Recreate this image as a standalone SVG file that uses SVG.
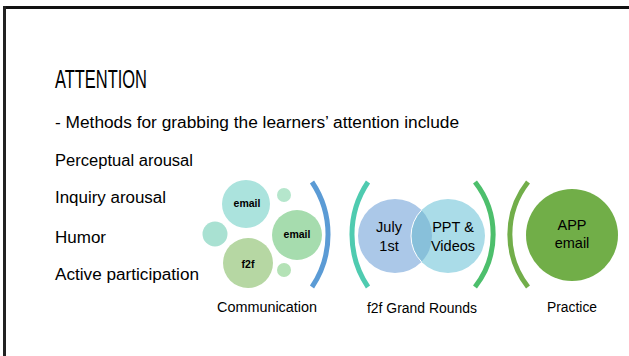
<svg xmlns="http://www.w3.org/2000/svg" width="629" height="356" viewBox="0 0 629 356">
  <style>
    .body { font-family: "Liberation Sans", Arial, sans-serif; font-size: 16px; fill: #000; }
    .title { font-family: "Liberation Sans", Arial, sans-serif; font-size: 25px; fill: #000; }
    .lbl { font-family: "Liberation Sans", Arial, sans-serif; font-size: 14px; fill: #000; text-anchor: middle; }
    .small { font-family: "Liberation Sans", Arial, sans-serif; font-size: 10.5px; font-weight: bold; fill: #000; text-anchor: middle; }
    .mid { font-family: "Liberation Sans", Arial, sans-serif; font-size: 14.5px; fill: #000; text-anchor: middle; }
    .arc { fill: none; stroke-width: 5; stroke-linecap: butt; }
  </style>
  <defs>
    <clipPath id="clipL"><circle cx="395" cy="236" r="37"/></clipPath>
  </defs>
  <rect x="0" y="0" width="629" height="356" fill="#ffffff"/>
  <g id="frame">
    <line x1="3" y1="7.5" x2="629" y2="7.5" stroke="#111" stroke-width="3"/>
    <line x1="4.5" y1="6" x2="4.5" y2="356" stroke="#222" stroke-width="3"/>
  </g>
  <g id="text-block">
    <text class="title" x="55" y="88" textLength="92" lengthAdjust="spacingAndGlyphs">ATTENTION</text>
    <text class="body" x="55" y="128" textLength="404" lengthAdjust="spacingAndGlyphs">- Methods for grabbing the learners’ attention include</text>
    <text class="body" x="55" y="166" textLength="138" lengthAdjust="spacingAndGlyphs">Perceptual arousal</text>
    <text class="body" x="55" y="203" textLength="111" lengthAdjust="spacingAndGlyphs">Inquiry arousal</text>
    <text class="body" x="55" y="243" textLength="51" lengthAdjust="spacingAndGlyphs">Humor</text>
    <text class="body" x="55" y="280" textLength="144" lengthAdjust="spacingAndGlyphs">Active participation</text>
  </g>
  <g id="communication">
    <circle cx="246" cy="204" r="24" fill="#abe3dd"/>
    <circle cx="284" cy="195" r="7" fill="#b5e6cc"/>
    <circle cx="297" cy="235" r="25" fill="#a6dcae"/>
    <circle cx="215" cy="234" r="12.5" fill="#a9e1d2"/>
    <circle cx="248" cy="263" r="25" fill="#b6d7a3"/>
    <circle cx="284" cy="270" r="7" fill="#b4e2b6"/>
    <text class="small" x="247" y="207">email</text>
    <text class="small" x="297" y="238">email</text>
    <text class="small" x="248" y="268">f2f</text>
    <text class="lbl" x="267" y="312" textLength="100" lengthAdjust="spacingAndGlyphs">Communication</text>
  </g>
  <g id="grand-rounds">
    <circle cx="395" cy="236" r="37" fill="#abc8e8"/>
    <circle cx="448" cy="236" r="37" fill="#aadce8"/>
    <circle cx="448" cy="236" r="37" fill="#88c0da" clip-path="url(#clipL)"/>
    <circle cx="448" cy="236" r="37" fill="none" stroke="#ffffff" stroke-width="1" clip-path="url(#clipL)"/>
    <text class="mid" x="389" y="232">July</text>
    <text class="mid" x="389" y="251">1st</text>
    <text class="mid" x="453" y="232">PPT &amp;</text>
    <text class="mid" x="453" y="251">Videos</text>
    <text class="lbl" x="422" y="313" textLength="110" lengthAdjust="spacingAndGlyphs">f2f Grand Rounds</text>
  </g>
  <g id="practice">
    <circle cx="572" cy="235" r="46" fill="#71ae48"/>
    <text class="mid" x="572" y="230">APP</text>
    <text class="mid" x="572" y="248">email</text>
    <text class="lbl" x="572" y="312" textLength="50" lengthAdjust="spacingAndGlyphs">Practice</text>
  </g>
  <g id="connectors">
    <path class="arc" stroke="#5b9bd5" d="M312,182 A94,94 0 0 1 312,287"/>
    <path class="arc" stroke="#4fcbb0" d="M368,182 A94,94 0 0 0 368,287"/>
    <path class="arc" stroke="#4dbf6c" d="M475,182 A85,85 0 0 1 475,287"/>
    <path class="arc" stroke="#72ae4a" d="M528,182 A85,85 0 0 0 528,287"/>
  </g>
</svg>
